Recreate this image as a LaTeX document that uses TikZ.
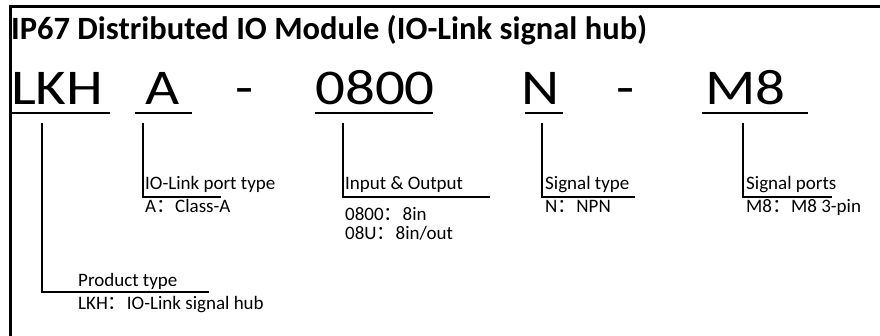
\documentclass[tikz,border=0pt]{standalone}
\usepackage{fontspec}
\setmainfont{Carlito}
\newfontfamily\cjk{Noto Sans CJK SC}
\newfontfamily\bigfam{Carlito}[FakeStretch=1.18]
\newcommand\fwc{{\cjk ：}}
\tikzset{
  lbl/.style={anchor=base west, inner sep=0pt, font=\fontsize{19}{22}\selectfont},
  big/.style={anchor=base west, inner sep=0pt, font=\bigfam\fontsize{50}{54}\selectfont},
  ttl/.style={anchor=base west, inner sep=0pt, font=\bfseries\fontsize{32.5}{35}\selectfont},
  uline/.style={line width=2pt},
  conn/.style={line width=2pt},
  frame/.style={line width=3pt}
}
\begin{document}
\begin{tikzpicture}[x=1pt,y=-1pt]
\useasboundingbox (0,0) rectangle (880,336);
% frame
\coordinate (ftl) at (10,7);
\coordinate (ftr) at (880,7);
\coordinate (fbl) at (10,336);
\draw[frame] (fbl) -- (ftl) -- (ftr);
% title
\node[ttl] (title) at (11,40) {IP67 Distributed IO Module (IO-Link signal hub)};
% code parts
\node[big] (lkh) at (11,105) {LKH};
\node[big] (a) at (145,105) {A};
\node[big] (d1) at (235,105) {-};
\node[big] (num) at (315,105) {0800};
\node[big] (n) at (521,105) {N};
\node[big] (d2) at (616,105) {-};
\node[big] (m8) at (705,105) {M8};
% underlines
\coordinate (u1a) at (11,113);  \coordinate (u1b) at (110,113);
\coordinate (u2a) at (135,113); \coordinate (u2b) at (192,113);
\coordinate (u3a) at (315,113); \coordinate (u3b) at (433,113);
\coordinate (u4a) at (525,113); \coordinate (u4b) at (563,113);
\coordinate (u5a) at (702,113); \coordinate (u5b) at (808,113);
\draw[uline] (u1a) -- (u1b);
\draw[uline] (u2a) -- (u2b);
\draw[uline] (u3a) -- (u3b);
\draw[uline] (u4a) -- (u4b);
\draw[uline] (u5a) -- (u5b);
% labels
\node[lbl] (pt) at (78,287) {Product type};
\node[lbl] (ptv) at (78,310) {LKH\fwc IO-Link signal hub};
\node[lbl] (ioport) at (145,190) {IO-Link port type};
\node[lbl] (ioportv) at (145,213) {A\fwc Class-A};
\node[lbl] (io) at (345,190) {Input \& Output};
\node[lbl] (iov1) at (345,221) {0800\fwc 8in};
\node[lbl] (iov2) at (345,240) {08U\fwc 8in/out};
\node[lbl] (st) at (545,190) {Signal type};
\node[lbl] (stv) at (545,213) {N\fwc NPN};
\node[lbl] (sp) at (746,190) {Signal ports};
\node[lbl] (spv) at (746,213) {M8\fwc M8 3-pin};
% connectors
\coordinate (c1t) at (42,123);  \coordinate (c1e) at (209,292);
\coordinate (c2t) at (143,123); \coordinate (c2e) at (221,197);
\coordinate (c3t) at (343,123); \coordinate (c3e) at (490,197);
\coordinate (c4t) at (542,123); \coordinate (c4e) at (635,197);
\coordinate (c5t) at (743,123); \coordinate (c5e) at (832,197);
\draw[conn] (c1t) |- (c1e);
\draw[conn] (c2t) |- (c2e);
\draw[conn] (c3t) |- (c3e);
\draw[conn] (c4t) |- (c4e);
\draw[conn] (c5t) |- (c5e);
\end{tikzpicture}
\end{document}
